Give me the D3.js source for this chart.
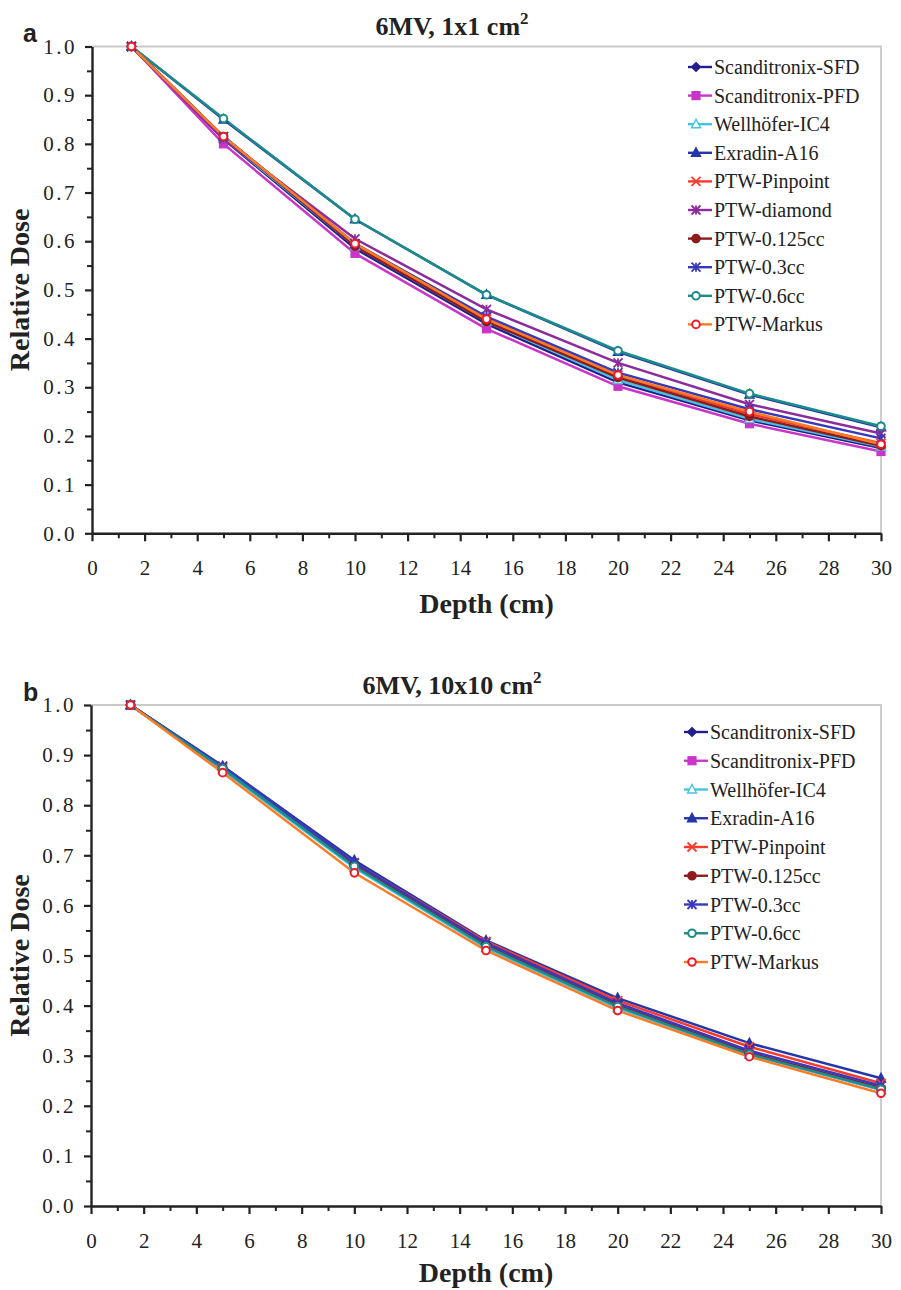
<!DOCTYPE html>
<html>
<head>
<meta charset="utf-8">
<script src="https://cdn.jsdelivr.net/npm/d3@7"></script>
<style>
  html, body { margin: 0; padding: 0; background: #fff; }
  svg { display: block; }
  text { font-family: "Liberation Serif", "Times New Roman", serif; fill: #222; }
</style>
</head>
<body>
<svg id="chart" width="901" height="1290"></svg>
<script>
// Depths (cm) at which each detector was measured
const depths = [1.5, 5, 10, 15, 20, 25, 30];

// Panel a: 6MV, 1x1 cm2 relative depth dose
const a_SFD      = [1.000, 0.810, 0.585, 0.430, 0.310, 0.232, 0.175];
const a_PFD      = [1.000, 0.800, 0.575, 0.420, 0.302, 0.225, 0.168];
const a_IC4      = [1.000, 0.812, 0.590, 0.435, 0.315, 0.235, 0.178];
const a_A16      = [1.000, 0.850, 0.645, 0.490, 0.373, 0.285, 0.218];
const a_Pinpoint = [1.000, 0.815, 0.595, 0.440, 0.325, 0.245, 0.185];
const a_diamond  = [1.000, 0.810, 0.605, 0.460, 0.350, 0.265, 0.205];
const a_125cc    = [1.000, 0.815, 0.590, 0.435, 0.320, 0.240, 0.180];
const a_03cc     = [1.000, 0.815, 0.595, 0.445, 0.330, 0.255, 0.195];
const a_06cc     = [1.000, 0.852, 0.645, 0.490, 0.375, 0.287, 0.220];
const a_Markus   = [1.000, 0.815, 0.595, 0.440, 0.325, 0.250, 0.183];

// Panel b: 6MV, 10x10 cm2 relative depth dose
const b_SFD      = [1.000, 0.875, 0.680, 0.520, 0.400, 0.305, 0.235];
const b_PFD      = [1.000, 0.872, 0.678, 0.518, 0.398, 0.303, 0.232];
const b_IC4      = [1.000, 0.870, 0.675, 0.515, 0.395, 0.302, 0.232];
const b_A16      = [1.000, 0.878, 0.690, 0.530, 0.415, 0.325, 0.255];
const b_Pinpoint = [1.000, 0.875, 0.685, 0.528, 0.410, 0.318, 0.245];
const b_125cc    = [1.000, 0.875, 0.680, 0.520, 0.400, 0.305, 0.235];
const b_03cc     = [1.000, 0.878, 0.685, 0.525, 0.405, 0.310, 0.240];
const b_06cc     = [1.000, 0.873, 0.678, 0.518, 0.398, 0.303, 0.233];
const b_Markus   = [1.000, 0.865, 0.665, 0.510, 0.390, 0.298, 0.225];

// Axis tick values
const xTicks = [0, 2, 4, 6, 8, 10, 12, 14, 16, 18, 20, 22, 24, 26, 28, 30];
const yTicks = [0, 0.1, 0.2, 0.3, 0.4, 0.5, 0.6, 0.7, 0.8, 0.9, 1.0];

// Detector styles: colour and marker
const detectors = {
  "Scanditronix-SFD": { color: "#231d8c", marker: "diamond", fill: true },
  "Scanditronix-PFD": { color: "#c935c9", marker: "square",  fill: true },
  "Wellhöfer-IC4":    { color: "#45c3e3", marker: "triangle", fill: false },
  "Exradin-A16":      { color: "#2436a8", marker: "triangle", fill: true },
  "PTW-Pinpoint":     { color: "#ff3a2a", marker: "cross",   fill: false },
  "PTW-diamond":      { color: "#8b2c9c", marker: "star",    fill: false },
  "PTW-0.125cc":      { color: "#8c1c1c", marker: "circle",  fill: true },
  "PTW-0.3cc":        { color: "#3838bc", marker: "star",    fill: false },
  "PTW-0.6cc":        { color: "#1c8c8a", marker: "circle",  fill: false },
  "PTW-Markus":       { color: "#ff7a22", marker: "circle",  fill: false, markerColor: "#ee1c24" }
};

const panels = [
  {
    letter: "a", title: "6MV, 1x1 cm", top: 46.5, bottom: 533.3, left: 92, right: 881,
    legendX: 714, legendY: 67, legendStep: 28.6, xLabelGap: 80,
    series: [
      ["Scanditronix-SFD", a_SFD], ["Scanditronix-PFD", a_PFD], ["Wellhöfer-IC4", a_IC4],
      ["Exradin-A16", a_A16], ["PTW-Pinpoint", a_Pinpoint], ["PTW-diamond", a_diamond],
      ["PTW-0.125cc", a_125cc], ["PTW-0.3cc", a_03cc], ["PTW-0.6cc", a_06cc], ["PTW-Markus", a_Markus]
    ]
  },
  {
    letter: "b", title: "6MV, 10x10 cm", top: 705, bottom: 1206, left: 91, right: 881,
    legendX: 710, legendY: 732, legendStep: 28.75, xLabelGap: 76,
    series: [
      ["Scanditronix-SFD", b_SFD], ["Scanditronix-PFD", b_PFD], ["Wellhöfer-IC4", b_IC4],
      ["Exradin-A16", b_A16], ["PTW-Pinpoint", b_Pinpoint], ["PTW-0.125cc", b_125cc],
      ["PTW-0.3cc", b_03cc], ["PTW-0.6cc", b_06cc], ["PTW-Markus", b_Markus]
    ]
  }
];

const svg = d3.select("#chart");

function drawMarker(g, style, cx, cy) {
  const c = style.markerColor || style.color;
  const f = style.fill ? c : "#fff";
  const s = 4.5;
  switch (style.marker) {
    case "diamond":
      g.append("path").attr("d", `M${cx},${cy - s}L${cx + s},${cy}L${cx},${cy + s}L${cx - s},${cy}Z`)
        .attr("fill", f).attr("stroke", c).attr("stroke-width", 1.2);
      break;
    case "square":
      g.append("rect").attr("x", cx - s + 0.5).attr("y", cy - s + 0.5).attr("width", 2 * s - 1).attr("height", 2 * s - 1)
        .attr("fill", f).attr("stroke", c).attr("stroke-width", 1.2);
      break;
    case "triangle":
      g.append("path").attr("d", `M${cx},${cy - s - 0.5}L${cx + s},${cy + s - 1}L${cx - s},${cy + s - 1}Z`)
        .attr("fill", f).attr("stroke", c).attr("stroke-width", 1.4);
      break;
    case "circle":
      g.append("circle").attr("cx", cx).attr("cy", cy).attr("r", s - 0.7)
        .attr("fill", f).attr("stroke", c).attr("stroke-width", 2);
      break;
    case "cross":
      g.append("path").attr("d", `M${cx - s},${cy - s}L${cx + s},${cy + s}M${cx - s},${cy + s}L${cx + s},${cy - s}`)
        .attr("stroke", c).attr("stroke-width", 1.8).attr("fill", "none");
      break;
    case "star":
      g.append("path").attr("d", `M${cx - s},${cy - s}L${cx + s},${cy + s}M${cx - s},${cy + s}L${cx + s},${cy - s}M${cx},${cy - s}L${cx},${cy + s}`)
        .attr("stroke", c).attr("stroke-width", 1.8).attr("fill", "none");
      break;
  }
}

panels.forEach(p => {
  const x = d3.scaleLinear().domain([0, 30]).range([p.left, p.right]);
  const y = d3.scaleLinear().domain([0, 1]).range([p.bottom, p.top]);
  const g = svg.append("g");

  // plot frame (top and right edges, light grey)
  g.append("path")
    .attr("d", `M${p.left},${p.top}H${p.right}V${p.bottom}`)
    .attr("fill", "none").attr("stroke", "#c9c9c9").attr("stroke-width", 1.8);

  // minor ticks
  const xMinor = d3.range(1, 30, 2);
  const yMinor = d3.range(0.05, 1.0, 0.1);
  g.append("g").attr("transform", `translate(0,${p.bottom})`)
    .call(d3.axisBottom(x).tickValues(xMinor).tickSize(5).tickFormat(""))
    .call(a => a.select(".domain").remove())
    .call(a => a.selectAll("line").attr("stroke", "#222").attr("stroke-width", 2));
  g.append("g").attr("transform", `translate(${p.left},0)`)
    .call(d3.axisLeft(y).tickValues(yMinor).tickSize(5).tickFormat(""))
    .call(a => a.select(".domain").remove())
    .call(a => a.selectAll("line").attr("stroke", "#222").attr("stroke-width", 2));

  // major axes
  const xAxis = g.append("g").attr("transform", `translate(0,${p.bottom})`)
    .call(d3.axisBottom(x).tickValues(xTicks).tickSize(8).tickSizeOuter(0).tickPadding(19).tickFormat(d3.format("d")));
  const yAxis = g.append("g").attr("transform", `translate(${p.left},0)`)
    .call(d3.axisLeft(y).tickValues(yTicks).tickSize(7).tickSizeOuter(0).tickPadding(8).tickFormat(d3.format(".1f")));
  [xAxis, yAxis].forEach(ax => {
    ax.select(".domain").attr("stroke", "#222").attr("stroke-width", 2.4);
    ax.selectAll("line").attr("stroke", "#222").attr("stroke-width", 2.2);
    ax.selectAll("text").style("font-family", "'Liberation Serif', serif").style("font-size", "21px").attr("fill", "#2a2a2a");
  });
  yAxis.selectAll("text").style("letter-spacing", "2.5px");

  // lines
  const line = d3.line().x((d, i) => x(depths[i])).y(d => y(d));
  p.series.forEach(([name, vals]) => {
    g.append("path").datum(vals).attr("d", line)
      .attr("fill", "none").attr("stroke", detectors[name].color).attr("stroke-width", 2.5);
  });
  // markers
  p.series.forEach(([name, vals]) => {
    const mg = g.append("g");
    vals.forEach((v, i) => drawMarker(mg, detectors[name], x(depths[i]), y(v)));
  });

  // legend
  p.series.forEach(([name], i) => {
    const ly = p.legendY + i * p.legendStep;
    const st = detectors[name];
    g.append("line").attr("x1", p.legendX - 26).attr("x2", p.legendX - 2).attr("y1", ly).attr("y2", ly)
      .attr("stroke", st.color).attr("stroke-width", 2.4);
    drawMarker(g, st, p.legendX - 18, ly);
    g.append("text").attr("x", p.legendX).attr("y", ly + 7)
      .style("font-size", "20px").attr("fill", "#2a2a2a").text(name);
  });

  // title with superscript, centred on the figure width
  const t = g.append("text").attr("x", 452).attr("y", p.top - 11.5)
    .attr("text-anchor", "middle").style("font-size", "26px").style("font-weight", "bold").attr("fill", "#222");
  t.append("tspan").text(p.title);
  t.append("tspan").attr("dy", -11).style("font-size", "17px").text("2");

  // panel letter
  g.append("text").attr("x", 23).attr("y", p.top - 4.5)
    .style("font-family", "'Liberation Sans', Arial, sans-serif").style("font-size", "25px").style("font-weight", "bold")
    .attr("fill", "#111").text(p.letter);

  // axis titles
  g.append("text").attr("x", (p.left + p.right) / 2).attr("y", p.bottom + p.xLabelGap)
    .attr("text-anchor", "middle").style("font-size", "28px").style("font-weight", "bold").attr("fill", "#222")
    .text("Depth (cm)");
  g.append("text").attr("transform", `translate(29,${(p.top + p.bottom) / 2}) rotate(-90)`)
    .attr("text-anchor", "middle").style("font-size", "28px").style("font-weight", "bold").attr("fill", "#222")
    .text("Relative Dose");
});
</script>
</body>
</html>
